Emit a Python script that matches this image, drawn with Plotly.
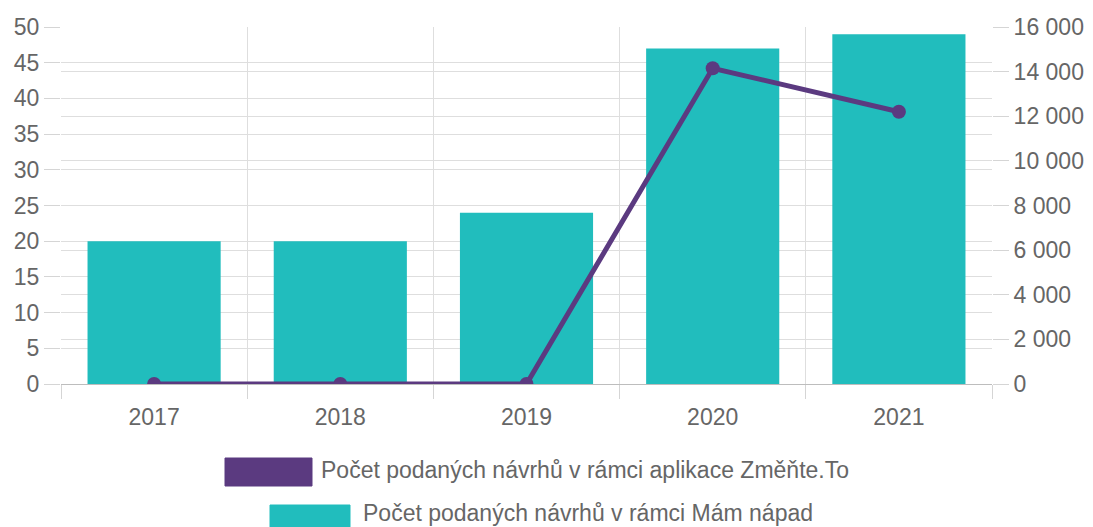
import plotly.graph_objects as go

years = ["2017", "2018", "2019", "2020", "2021"]
mam_napad = [20, 20, 24, 47, 49]
zmente_to = [0, 0, 0, 14150, 12200]
legend_labels = ["Počet podaných návrhů v rámci aplikace Změňte.To",
                 "Počet podaných návrhů v rámci Mám nápad"]

BAR_COLOR = "#21BDBD"
LINE_COLOR = "#5B3A80"
TEXT_COLOR = "#666666"
GRID = "#DEDEDE"
FS = 23

W, H = 1093, 527
L, R, T, B = 61, 992, 27, 384

fig = go.Figure()
fig.add_trace(go.Bar(x=years, y=mam_napad, marker=dict(color=BAR_COLOR, line=dict(width=0)),
                     name=legend_labels[1], yaxis="y"))
fig.add_trace(go.Scatter(x=years, y=zmente_to, mode="lines+markers", name=legend_labels[0],
                         line=dict(color=LINE_COLOR, width=5),
                         marker=dict(color=LINE_COLOR, size=14), yaxis="y2"))

def px_x(px):
    return (px - L) / (R - L)

def px_y(py):
    return (B - py) / (B - T)

shapes = []
annotations = []
legend_rows = [
    (225, 312, 458, 486, 320, 470, legend_labels[0], LINE_COLOR),
    (270, 350, 505, 533, 362, 512.5, legend_labels[1], BAR_COLOR),
]
for x0, x1, y0, y1, tx, ty, label, col in legend_rows:
    shapes.append(dict(type="rect", xref="paper", yref="paper",
                       x0=px_x(x0), x1=px_x(x1), y0=px_y(y1), y1=px_y(y0),
                       fillcolor=col, line=dict(color=col, width=1), layer="above"))
    annotations.append(dict(xref="paper", yref="paper", x=px_x(tx), y=px_y(ty),
                            xanchor="left", yanchor="middle", showarrow=False, text=label,
                            borderpad=0, font=dict(size=FS, color=TEXT_COLOR)))

fig.update_layout(
    width=W, height=H,
    margin=dict(l=L, r=W - R, t=T, b=H - B, autoexpand=False),
    paper_bgcolor="white", plot_bgcolor="white",
    font=dict(family="Liberation Sans, Arial, sans-serif", size=FS, color=TEXT_COLOR),
    separators=", ",
    bargap=0.285,
    showlegend=False,
    xaxis=dict(type="category", tickson="boundaries", showgrid=True, gridcolor=GRID,
               ticks="outside", ticklen=14, tickcolor="#D5D5D5", showline=True,
               linecolor="#BDBDBD", linewidth=1, ticklabelstandoff=12,
               tickfont=dict(size=FS, color=TEXT_COLOR)),
    yaxis=dict(range=[0, 50], dtick=5, showgrid=True, gridcolor=GRID, zeroline=False,
               ticks="outside", ticklen=16, tickcolor="#D5D5D5",
               tickfont=dict(size=FS, color=TEXT_COLOR)),
    yaxis2=dict(range=[0, 16000], dtick=2000, overlaying="y", side="right",
                showgrid=True, gridcolor=GRID, zeroline=False, tickformat=",d",
                ticks="outside", ticklen=16, tickcolor="#D5D5D5",
                tickfont=dict(size=FS, color=TEXT_COLOR)),
    shapes=shapes,
    annotations=annotations,
)

fig.write_html("out.html", config={"displayModeBar": False},
               post_script="document.body.style.margin='0';")
